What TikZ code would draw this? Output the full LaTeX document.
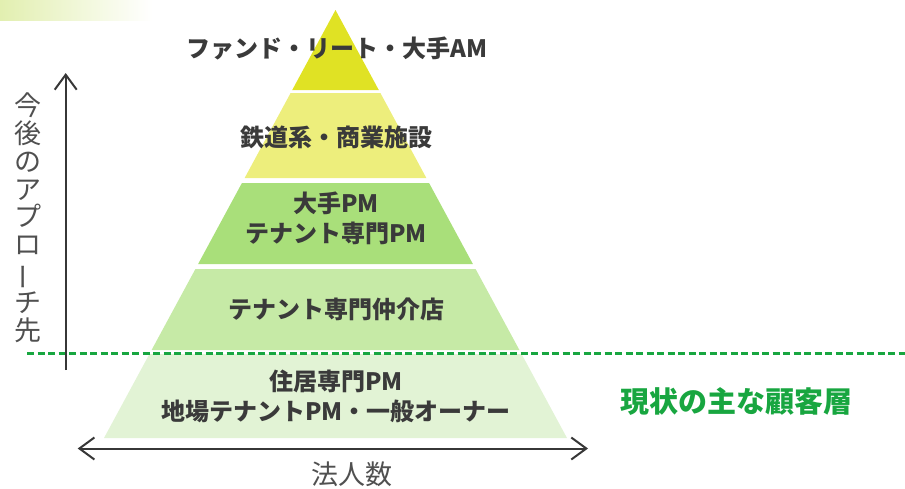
\documentclass[tikz,border=0pt]{standalone}
\usepackage{fontspec}
\setmainfont{Noto Sans CJK JP}
\usepackage{graphicx}
\usetikzlibrary{arrows.meta}
\definecolor{layA}{RGB}{224,226,36}
\definecolor{layB}{RGB}{237,238,124}
\definecolor{layC}{RGB}{169,223,122}
\definecolor{layD}{RGB}{198,234,166}
\definecolor{layE}{RGB}{226,243,213}
\definecolor{txtdark}{RGB}{58,58,58}
\definecolor{axisgray}{RGB}{80,80,80}
\definecolor{axisline}{RGB}{55,55,55}
\definecolor{greenline}{RGB}{24,166,64}
\definecolor{bartint}{RGB}{226,239,176}
% pyramid layer: ytop, ybot, colour
\newcommand\pyrlayer[3]{%
  \fill[#3] ({335.5-0.5409*(#1-10)},#1) -- ({335.5+0.5409*(#1-10)},#1)
     -- ({335.5+0.5409*(#2-10)},#2) -- ({335.5-0.5409*(#2-10)},#2) -- cycle;}
\begin{document}
\begin{tikzpicture}[x=1pt,y=-1pt,
  layertext/.style={text=txtdark,font=\fontsize{24}{30}\selectfont\bfseries,align=center,inner sep=0pt},
  axislabel/.style={text=axisgray,font=\fontsize{27}{27.9}\selectfont,align=center,inner sep=0pt},
  axisarrow/.style={draw=axisline,line width=2pt},
  currentline/.style={draw=greenline,line width=2.5pt,dash pattern=on 7pt off 3.5pt},
  greentext/.style={text=greenline,font=\fontsize{29}{30}\selectfont\bfseries,inner sep=0pt}]
\useasboundingbox (0,0) rectangle (905,488);
% header tint bar
\shade[left color=bartint,right color=white] (0,0) rectangle (152,20);
% pyramid
\pyrlayer{10}{90}{layA}
\pyrlayer{93}{178}{layB}
\pyrlayer{183}{264}{layC}
\pyrlayer{269}{350}{layD}
\pyrlayer{354}{438}{layE}
% layer labels
\node[layertext] (t1) at (337,48) {ファンド・リート・大手AM};
\node[layertext] (t2) at (336,137) {鉄道系・商業施設};
\node[layertext] (t3) at (336,218) {大手PM\\テナント専門PM};
\node[layertext] (t4) at (336,309) {テナント専門仲介店};
\node[layertext] (t5) at (336,396) {住居専門PM\\地場テナントPM・一般オーナー};
% current customers boundary
\coordinate (dl) at (27,353.5);
\coordinate (dr) at (905,353.5);
\draw[currentline] (dl) -- (dr);
\node[greentext] (cur) at (736,401.5) {現状の主な顧客層};
% vertical axis
\coordinate (vb) at (65.7,370);
\coordinate (vt) at (65.7,73);
\draw[axisarrow,-{Straight Barb[length=15pt,width=22pt]}] (vb) -- (vt);
\node[axislabel] (vlab) at (28,217.5) {今\\後\\の\\ア\\プ\\ロ\\\rotatebox[origin=c]{90}{ー}\\チ\\先};
% horizontal axis
\coordinate (hl) at (77.7,448.5);
\coordinate (hr) at (588,448.5);
\draw[axisarrow,{Straight Barb[length=15pt,width=22pt]}-{Straight Barb[length=15pt,width=22pt]}] (hl) -- (hr);
\node[axislabel] (hlab) at (352,474) {法人数};
\end{tikzpicture}
\end{document}
